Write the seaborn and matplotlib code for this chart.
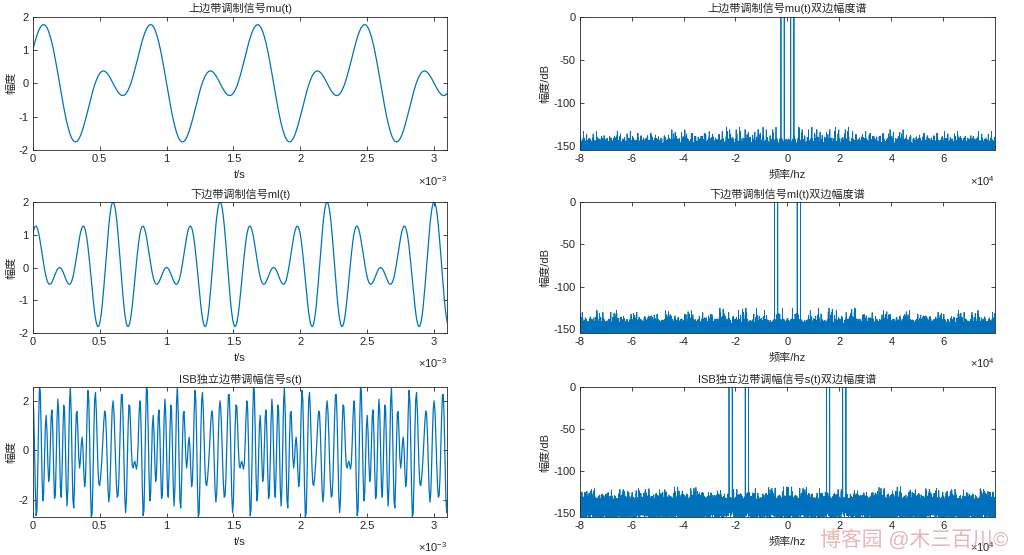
import numpy as np
import pandas as pd
import matplotlib
matplotlib.use("Agg")
import matplotlib.pyplot as plt
import seaborn as sns
from matplotlib.ticker import FuncFormatter

# signal parameters
fs = 160000            # sampling rate, Hz (spectrum spans -8e4..8e4)
n_samples = 160000
fc = 20000             # carrier, Hz
usb_freqs = [1250, 2500]      # mu(t) = cos(w t) + sin(2 w t)
usb_phases = [0, -90]         # degrees
lsb_freqs = [3750, 5000]      # ml(t) = sin(3 w t) + cos(4 w t)
lsb_phases = [-90, 0]
t_show = 3.1e-3               # time window shown on the left

titles_time = ["上边带调制信号mu(t)", "下边带调制信号ml(t)", "ISB独立边带调幅信号s(t)"]
titles_freq = ["上边带调制信号mu(t)双边幅度谱", "下边带调制信号ml(t)双边幅度谱",
               "ISB独立边带调幅信号s(t)双边幅度谱"]
ylims_time = [(-2, 2), (-2, 2), None]
db_floor = -155

t = np.arange(n_samples) / fs
mu = sum(np.cos(2 * np.pi * f * t + np.deg2rad(p)) for f, p in zip(usb_freqs, usb_phases))
ml = sum(np.cos(2 * np.pi * f * t + np.deg2rad(p)) for f, p in zip(lsb_freqs, lsb_phases))
s = (sum(np.cos(2 * np.pi * (fc + f) * t + np.deg2rad(p)) for f, p in zip(usb_freqs, usb_phases))
     + sum(np.cos(2 * np.pi * (fc - f) * t - np.deg2rad(p)) for f, p in zip(lsb_freqs, lsb_phases)))

freq = (np.arange(n_samples) - n_samples // 2) * fs / n_samples


def spectrum_db(x):
    X = np.abs(np.fft.fftshift(np.fft.fft(x)))
    return 10 * np.log10(X / X.max())


sns.set_theme(style="ticks")
plt.rcParams["font.family"] = ["Liberation Sans", "Noto Sans CJK SC", "DejaVu Sans"]
plt.rcParams["axes.unicode_minus"] = False
plt.rcParams["mathtext.fontset"] = "custom"
plt.rcParams["mathtext.rm"] = "Liberation Sans"

line_color = "#0072BD"
text_color = "#262626"

fig = plt.figure(figsize=(10.24, 5.55), dpi=100)
bottoms = [0.730, 0.400, 0.0685]
heights = [0.240, 0.236, 0.234]

for i, sig in enumerate([mu, ml, s]):
    # time domain
    ax = fig.add_axes([0.032, bottoms[i], 0.405, heights[i]])
    mask = t <= t_show + 1e-12
    df = pd.DataFrame({"t": t[mask], "y": sig[mask]})
    sns.lineplot(data=df, x="t", y="y", ax=ax, color=line_color, linewidth=0.9,
                 estimator=None, sort=False)
    ax.set_xlim(0, t_show)
    if ylims_time[i] is None:
        ax.set_ylim(df["y"].min(), df["y"].max())
    else:
        ax.set_ylim(*ylims_time[i])
    ax.set_xticks(np.arange(0, 3.01e-3, 0.5e-3))
    ax.xaxis.set_major_formatter(FuncFormatter(lambda v, p: "%g" % round(v * 1e3, 3)))
    ax.set_title(titles_time[i], fontsize=8, color=text_color, pad=3)
    ax.set_xlabel("t/s", fontsize=8, color=text_color, labelpad=4)
    ax.set_ylabel("幅度", fontsize=8, color=text_color, labelpad=2)
    ax.text(1.0, -0.18, r"×10$^{-3}$", transform=ax.transAxes, ha="right", va="top",
            fontsize=8, color=text_color)

    # spectrum
    ax2 = fig.add_axes([0.566, bottoms[i], 0.406, heights[i]])
    dfs = pd.DataFrame({"f": freq, "db": spectrum_db(sig)})
    sns.lineplot(data=dfs, x="f", y="db", ax=ax2, color=line_color, linewidth=0.6,
                 estimator=None, sort=False)
    ax2.set_xlim(freq[0], freq[-1])
    ax2.set_ylim(db_floor, 0)
    ax2.set_xticks(np.arange(-8e4, 6.01e4, 2e4))
    ax2.set_yticks([-150, -100, -50, 0])
    ax2.xaxis.set_major_formatter(FuncFormatter(lambda v, p: "%g" % round(v / 1e4, 3)))
    ax2.set_title(titles_freq[i], fontsize=8, color=text_color, pad=3)
    ax2.set_xlabel("频率/hz", fontsize=8, color=text_color, labelpad=4)
    ax2.set_ylabel("幅度/dB", fontsize=8, color=text_color, labelpad=2)
    ax2.text(1.0, -0.18, r"×10$^{4}$", transform=ax2.transAxes, ha="right", va="top",
             fontsize=8, color=text_color)

for ax in fig.axes:
    ax.tick_params(direction="in", length=3, width=0.6, labelsize=8, colors=text_color,
                   top=True, right=True, pad=3)
    for sp in ax.spines.values():
        sp.set_color(text_color)
        sp.set_linewidth(0.6)

fig.text(0.985, 0.008, "博客园 @木三百川©", ha="right", va="bottom", fontsize=15,
         color="#e6a8a8", alpha=0.85)

fig.savefig("out.png", dpi=100)
